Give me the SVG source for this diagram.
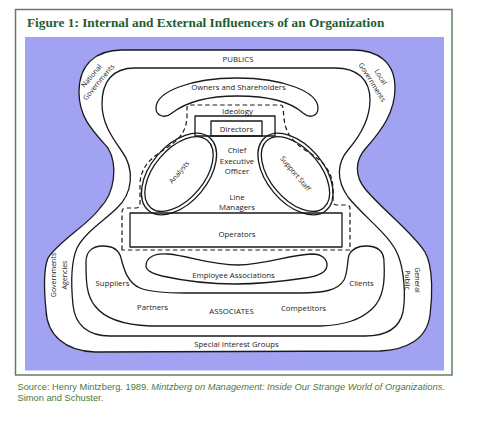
<svg xmlns="http://www.w3.org/2000/svg" width="483" height="422" viewBox="0 0 483 422">
<style>
.ln{fill:none;stroke:#1a1a1a;stroke-width:1.3;stroke-linejoin:round}
.wf{fill:#fff;stroke:#1a1a1a;stroke-width:1.3;stroke-linejoin:round}
.dash{fill:none;stroke:#1a1a1a;stroke-width:1.2;stroke-dasharray:4.5 3}
.t{font-family:"Open Sans","Noto Sans",sans-serif;font-size:7.8px;fill:#1a1a1a;text-anchor:middle}
.s{font-family:"Open Sans","Noto Sans",sans-serif;font-size:7px;fill:#1a1a1a;text-anchor:middle}
.title{font-family:"Liberation Serif","Times New Roman",serif;font-weight:bold;font-size:13.3px;fill:#1f5c32}
.src{font-family:"Liberation Sans",Arial,sans-serif;font-size:9.3px;fill:#4a7a3a}
</style>
<rect x="0" y="0" width="483" height="422" fill="#fff"/>
<rect id="frame" x="15.5" y="9.5" width="436.5" height="365.5" fill="#fff" stroke="#5f8060" stroke-width="1.5"/>
<text class="title" x="27" y="27">Figure 1: Internal and External Influencers of an Organization</text>
<rect id="background" x="25" y="37" width="419" height="333.5" fill="#a2a2f2"/>

<g id="publics">
<path class="wf" d="M122,50 L352,50 C378,50 395,62 395,88 C395,112 382,130 366,148 C355,160 354,176 366,190 C385,212 412,232 425,252 C434,268 432,300 430,315 C427,340 405,350 380,351 L95,352 C65,351 47,335 46,310 C44,290 44,268 48,258 C60,240 88,225 100,208 C115,193 118,165 108,148 C92,130 79,117 79,92 C79,65 95,50 122,50 Z"/>
<path class="ln" d="M135,68 L335,68 C358,68 370,80 370,100 C370,120 360,136 348,150 C337,163 336,180 348,197 C365,218 390,235 398,255 C404,270 406,295 403,312 C399,330 385,336 365,336 L110,336 C88,336 75,325 73,305 C71,285 71,262 77,248 C85,232 105,220 117,208 C132,194 136,170 121,150 C111,136 102,122 102,104 C102,82 112,68 135,68 Z"/>
<text class="t" x="238" y="62">PUBLICS</text>
<text class="t" x="236.5" y="347">Special Interest Groups</text>
<g transform="translate(95,79) rotate(-50)">
<text class="s" x="0" y="-2.3">National</text>
<text class="s" x="0" y="7.2">Governments</text>
</g>
<g transform="translate(376.5,79.5) rotate(58)">
<text class="s" x="0" y="-2.5">Local</text>
<text class="s" x="0" y="7.5">Governments</text>
</g>
<g transform="translate(60,275) rotate(-90)">
<text class="s" x="0" y="-4.5">Governments</text>
<text class="s" x="0" y="6.5">Agencies</text>
</g>
<g transform="translate(413,280) rotate(90)">
<text class="s" x="0" y="-2.3">General</text>
<text class="s" x="0" y="7.7">Public</text>
</g>
</g>

<g id="owners">
<path class="ln" d="M156,108 C156,92 190,78 237,78 C284,78 318,92 318,108 C318,116 310,119 303,113 C292,103 270,96 237,96 C205,96 185,103 172,113 C165,119 156,116 156,108 Z"/>
<text class="t" x="238.5" y="90">Owners and Shareholders</text>
</g>

<g id="associates">
<path class="ln" d="M86,262 C86,252 92,246 103,246 C113,246 119,250 121,258 C124,270 128,283 140,288 C150,292 165,293 185,293 L300,293 C325,293 338,290 344,280 C348,272 347,262 349,255 C352,249 358,246 366,246 C378,246 384,252 384,262 C385,280 384,298 372,309 C360,320 345,325 320,326 L150,326 C125,325 105,319 95,306 C86,295 86,280 86,262 Z"/>
<text class="t" x="112.5" y="286">Suppliers</text>
<text class="t" x="361.5" y="286">Clients</text>
<text class="t" x="152.5" y="310">Partners</text>
<text class="t" x="231.5" y="314">ASSOCIATES</text>
<text class="t" x="303.5" y="311">Competitors</text>
</g>

<g id="employee-associations">
<path class="ln" d="M146,266 C146,257 155,253 168,254 C190,256 210,265 238,265 C265,265 288,255 312,254 C322,254 327,259 327,265 C327,272 320,276 305,278 C285,281 262,284 235,284 C205,284 180,280 162,276 C150,273 146,270 146,266 Z"/>
<text class="t" x="233.5" y="278">Employee Associations</text>
</g>

<g id="ideology">
<path class="dash" d="M122,250 L122,212 Q122,208 126,208 L136,208 Q140,208 140,203 L140,185 C140,165 155,155 168,147 C182,138 187,128 187,115 L187,108 Q187,105 190,105 L280,105 Q283,105 283,108 L284,118 C285,130 290,140 305,150 C322,160 333,170 333,190 L333,201 Q333,205 337,205 L347,205 Q350,205 350,209 L350,250 Z"/>
<text class="t" x="237.5" y="113.5">Ideology</text>
</g>

<g id="directors">
<rect class="ln" x="195" y="116" width="80" height="20"/>
<rect class="ln" x="211" y="121" width="51" height="15"/>
<text class="t" x="236.5" y="131.5">Directors</text>
</g>

<g id="analysts">
<ellipse class="ln" cx="179" cy="174" rx="47.5" ry="28.5" transform="rotate(-50 179 174)"/>
<ellipse class="ln" cx="179" cy="174" rx="44" ry="25" transform="rotate(-50 179 174)"/>
<text class="s" x="0" y="2.6" transform="translate(179,172) rotate(-50)">Analysts</text>
</g>

<g id="support-staff">
<ellipse class="ln" cx="295.5" cy="174" rx="47.5" ry="28.5" transform="rotate(50 295.5 174)"/>
<ellipse class="ln" cx="295.5" cy="174" rx="44" ry="25" transform="rotate(50 295.5 174)"/>
<text class="s" x="0" y="2.6" transform="translate(295.5,173.5) rotate(50)">Support Staff</text>
</g>

<g id="ceo">
<text class="t" x="237" y="153">Chief</text>
<text class="t" x="237" y="163.5">Executive</text>
<text class="t" x="237" y="174">Officer</text>
</g>

<g id="line-managers">
<text class="t" x="237" y="200">Line</text>
<text class="t" x="237" y="210">Managers</text>
</g>

<g id="operators">
<rect class="ln" x="130" y="213" width="212" height="34"/>
<text class="t" x="237" y="237">Operators</text>
</g>

<text class="src" x="17.5" y="390">Source: Henry Mintzberg. 1989. <tspan font-style="italic">Mintzberg on Management: Inside Our Strange World of Organizations</tspan>.</text>
<text class="src" x="17.5" y="400.5">Simon and Schuster.</text>
</svg>
